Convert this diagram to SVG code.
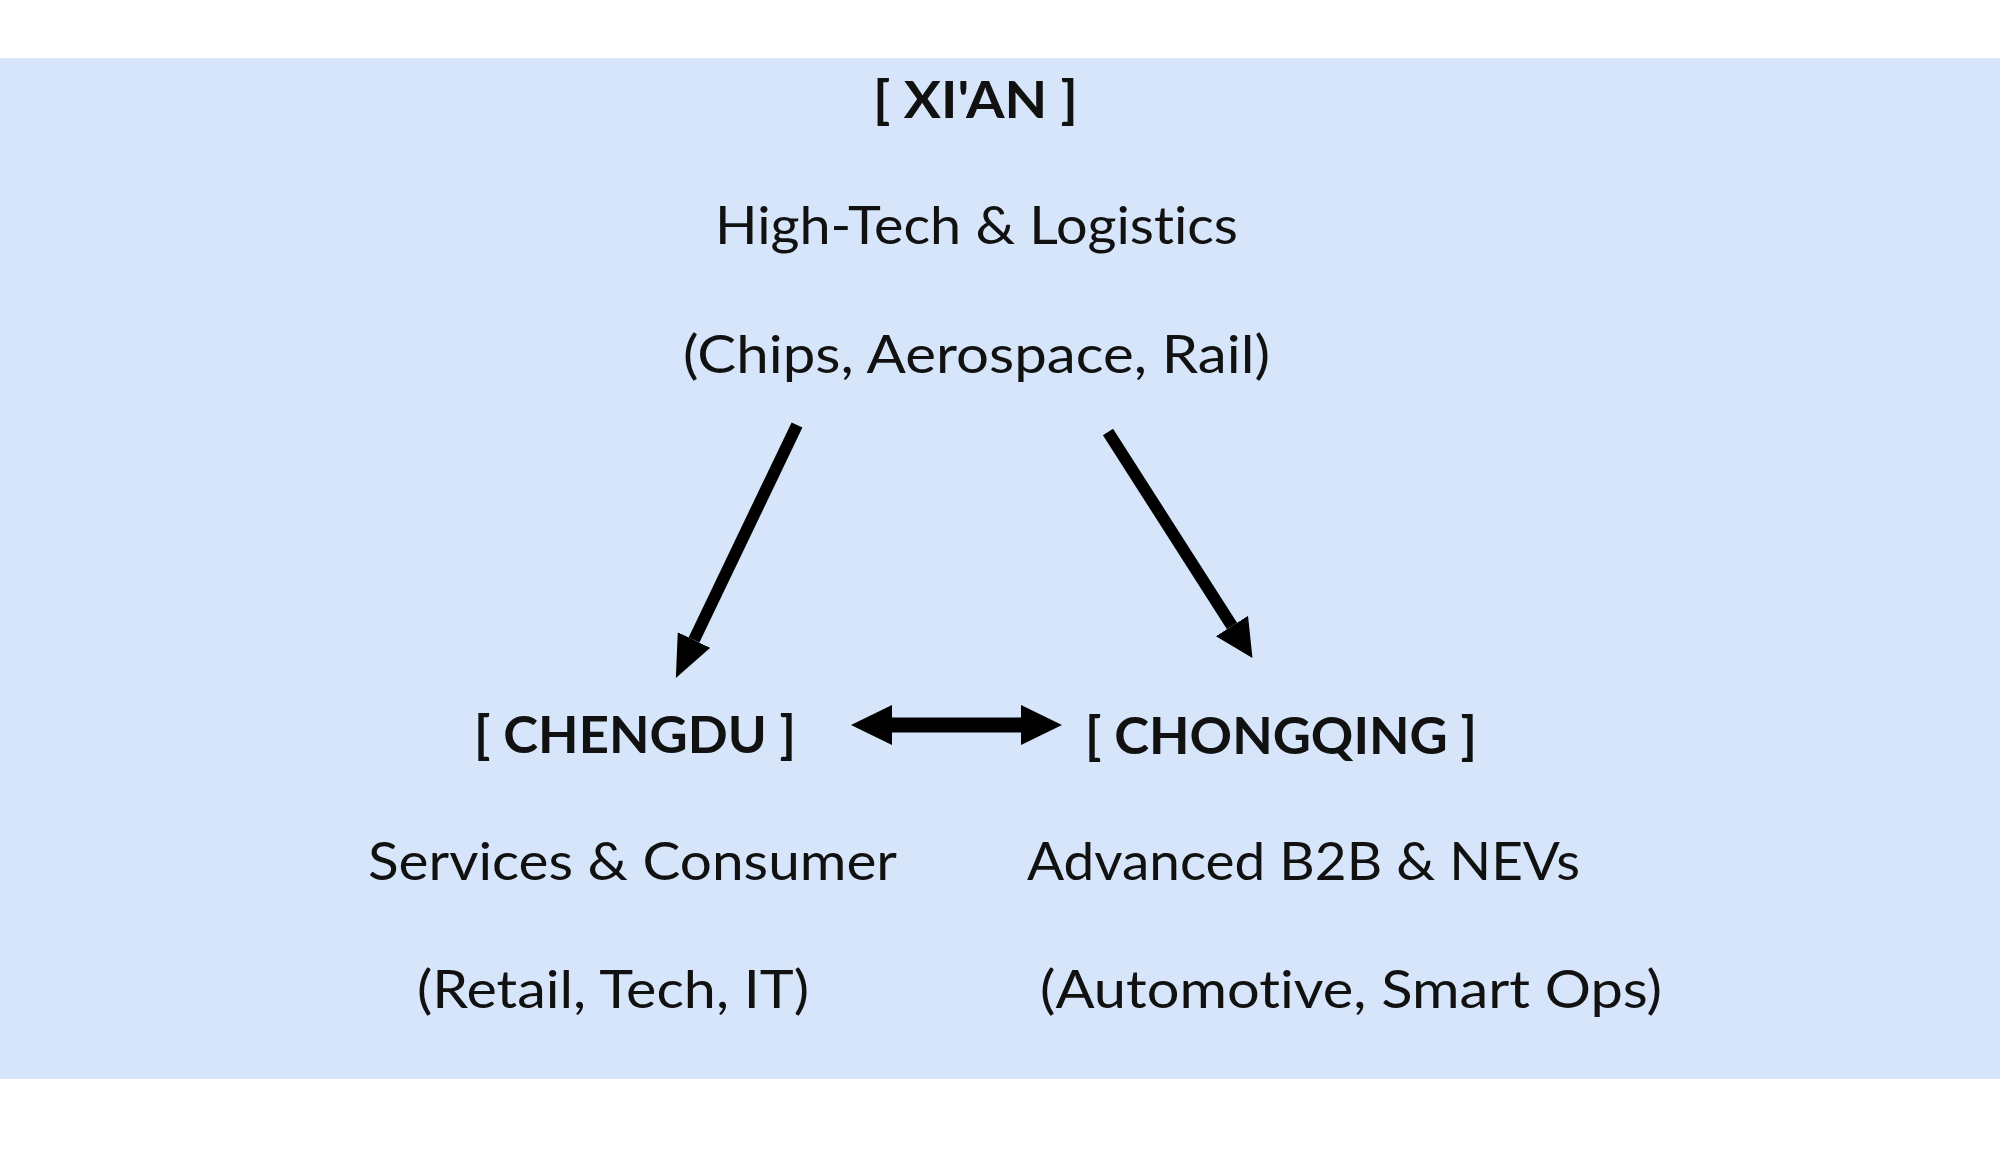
<svg xmlns="http://www.w3.org/2000/svg" width="2000" height="1152" viewBox="0 0 2000 1152">
<style>
.t{font-family:Lato,"Liberation Sans",sans-serif;font-size:52px;fill:#111;font-variant-ligatures:none;font-feature-settings:"liga" 0,"clig" 0}
.b{font-weight:bold}
.c{stroke:#000;fill:none}
</style>
<defs>
<marker id="h1" markerUnits="userSpaceOnUse" markerWidth="46" markerHeight="40" refX="0" refY="18" orient="auto"><path d="M0,0 L42,18 L0,36 z" fill="#000"/></marker>
<marker id="h2" markerUnits="userSpaceOnUse" markerWidth="42" markerHeight="40" refX="0" refY="19" orient="auto"><path d="M0,0 L38,19 L0,38 z" fill="#000"/></marker>
<marker id="h3" markerUnits="userSpaceOnUse" markerWidth="44" markerHeight="44" refX="0" refY="20" orient="auto-start-reverse"><path d="M0,0 L41,20 L0,40 z" fill="#000"/></marker>
</defs>
<rect x="0" y="0" width="2000" height="1152" fill="#ffffff"/>
<rect id="band" x="0" y="58" width="2000" height="1021" fill="#D6E5FA"/>
<g id="xian">
<text class="t b" x="873" y="118" textLength="205" lengthAdjust="spacingAndGlyphs">[ XI'AN ]</text>
<text class="t" x="715" y="244" textLength="523" lengthAdjust="spacingAndGlyphs">High-Tech &amp; Logistics</text>
<text class="t" x="683" y="373" textLength="587" lengthAdjust="spacingAndGlyphs">(Chips, Aerospace, Rail)</text>
</g>
<g id="chengdu">
<text class="t b" x="474" y="753" textLength="322" lengthAdjust="spacingAndGlyphs">[ CHENGDU ]</text>
<text class="t" x="368" y="880" textLength="529" lengthAdjust="spacingAndGlyphs">Services &amp; Consumer</text>
<text class="t" x="417" y="1008" textLength="392" lengthAdjust="spacingAndGlyphs">(Retail, Tech, IT)</text>
</g>
<g id="chongqing">
<text class="t b" x="1085" y="754" textLength="392" lengthAdjust="spacingAndGlyphs">[ CHONGQING ]</text>
<text class="t" x="1027" y="880" textLength="553" lengthAdjust="spacingAndGlyphs">Advanced B2B &amp; NEVs</text>
<text class="t" x="1040" y="1008" textLength="622" lengthAdjust="spacingAndGlyphs">(Automotive, Smart Ops)</text>
</g>
<g id="connectors">
<line class="c" x1="797" y1="425" x2="694" y2="640" stroke-width="12" marker-end="url(#h1)"/>
<line class="c" x1="1108" y1="432" x2="1232" y2="626" stroke-width="12" marker-end="url(#h2)"/>
<line class="c" x1="892" y1="725" x2="1021" y2="725" stroke-width="15" marker-start="url(#h3)" marker-end="url(#h3)"/>
</g>
</svg>
